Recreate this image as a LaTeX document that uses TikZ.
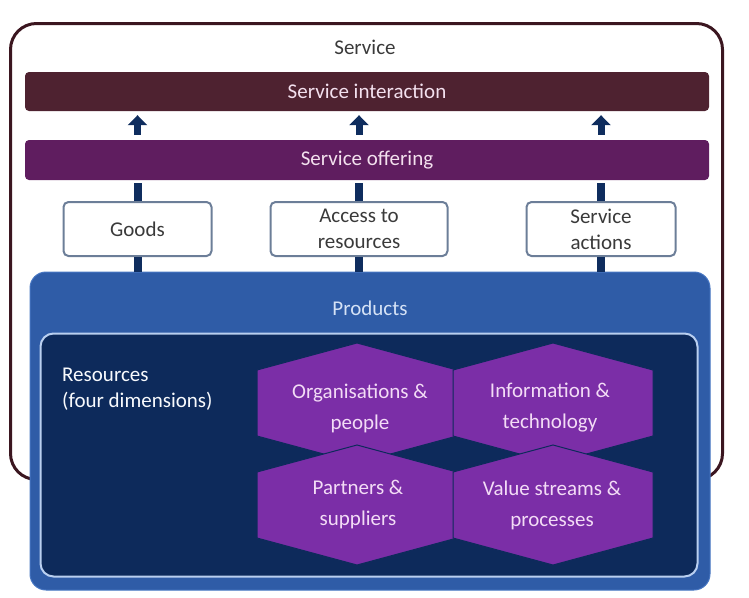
\documentclass[tikz,border=0pt]{standalone}
\usepackage{fontspec}
\setmainfont{Carlito}
\usetikzlibrary{arrows.meta}
\definecolor{svcborder}{HTML}{3B1620}
\definecolor{interfill}{HTML}{4E2230}
\definecolor{offerfill}{HTML}{5F1D5F}
\definecolor{navy}{HTML}{0F2D5E}
\definecolor{boxborder}{HTML}{6C7E98}
\definecolor{prodfill}{HTML}{2F5CA7}
\definecolor{prodedge}{HTML}{4776C2}
\definecolor{innerfill}{HTML}{0D2A5B}
\definecolor{inneredge}{HTML}{B9CFF0}
\definecolor{hexfill}{HTML}{7B2EA7}
\definecolor{hextext}{HTML}{F3DCF6}
\definecolor{bartext}{HTML}{F3E0EE}
\definecolor{greytext}{HTML}{3A3A3A}
\tikzset{
  x=1pt, y=-1pt,
  txt/.style={font=\fontsize{21}{26}\selectfont, align=center, inner sep=0pt},
  bar/.style={txt, rectangle, rounded corners=4pt, minimum width=684pt, minimum height=39pt, text=bartext},
  itembox/.style={txt, rectangle, rounded corners=5pt, draw=boxborder, line width=2pt, fill=white, minimum height=54pt, text=greytext},
  uparrow/.style={draw=navy, line width=7pt, -{Triangle[width=19pt,length=10pt]}, shorten >=4pt, shorten <=5pt},
  link/.style={draw=navy, line width=8pt},
  hexshape/.style={fill=hexfill, draw=innerfill, line width=1pt},
  hexlabel/.style={txt, font=\fontsize{21}{31}\selectfont, text=hextext},
}
\newcommand\hexat[2]{%
  \path[hexshape] (#1-100,#2-33) -- (#1,#2-60) -- (#1+100,#2-33) -- (#1+100,#2+33) -- (#1,#2+60) -- (#1-100,#2+33) -- cycle;}
\begin{document}
\begin{tikzpicture}
\useasboundingbox (0,0) rectangle (749,597);
% outer service box
\node[draw=svcborder, line width=3pt, rounded corners=26pt, minimum width=712pt, minimum height=456pt, inner sep=0pt] (service) at (366.5,251.5) {};
\node[txt, text=greytext] (svclabel) at (365,47) {Service};
% bars
\node[bar, fill=interfill] (interaction) at (367,91.5) {Service interaction};
\node[bar, fill=offerfill, minimum height=40pt] (offering) at (367,160) {Service offering};
% item boxes
\node[itembox, minimum width=148pt] (goods) at (137.5,229) {Goods};
\node[itembox, minimum width=177pt] (access) at (359,229) {Access to\\resources};
\node[itembox, minimum width=149pt] (actions) at (601,229) {Service\\actions};
% products
\node[rectangle, rounded corners=16pt, fill=prodfill, draw=prodedge, line width=1pt, minimum width=680pt, minimum height=318pt, inner sep=0pt] (products) at (370,431) {};
\node[txt, text=inneredge!60!white] (prodlabel) at (370,308) {Products};
\node[rectangle, rounded corners=13pt, fill=innerfill, draw=inneredge, line width=2pt, minimum width=657pt, minimum height=243pt, inner sep=0pt] (resources) at (369,455) {};
\node[txt, align=left, anchor=north west, text=white!90!inneredge] (reslabel) at (62,368) {Resources\\(four dimensions)};
% arrows offering -> interaction
\foreach \b in {goods,access,actions}{
  \draw[uparrow] (\b |- offering.north) -- (\b |- interaction.south);
  \draw[link, shorten >=3pt] (\b.north) -- (\b |- offering.south);
  \draw[link] (\b.south) -- (\b |- products.north);
}
% hexagons
\hexat{357}{403}
\hexat{553}{403}
\hexat{357}{505}
\hexat{553}{505}
\node[hexlabel] (orgs) at (360,408) {Organisations \&\\people};
\node[hexlabel] (info) at (550,408) {Information \&\\technology};
\node[hexlabel] (partners) at (358,505) {Partners \&\\suppliers};
\node[hexlabel] (value) at (552,505) {Value streams \&\\processes};
\end{tikzpicture}
\end{document}
